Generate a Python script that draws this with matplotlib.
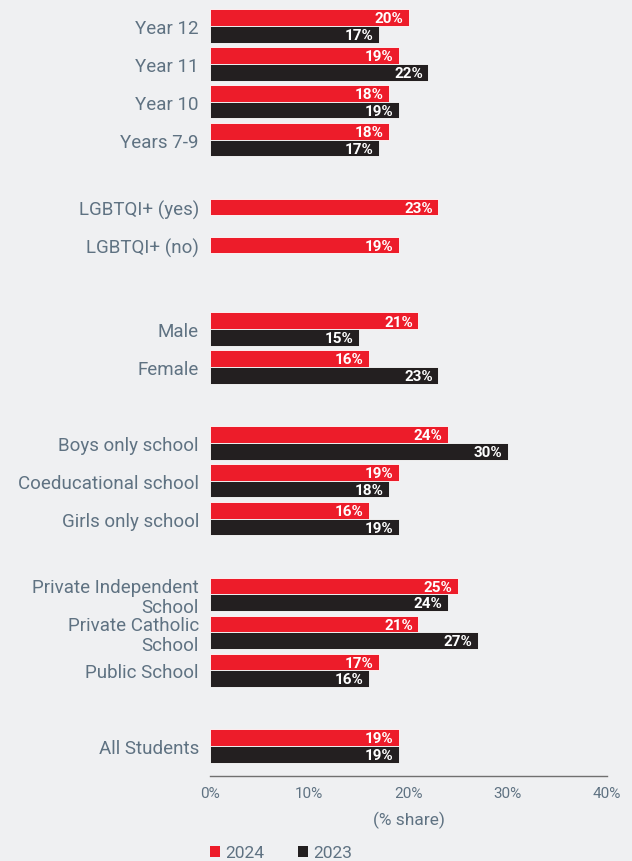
import numpy as np
import matplotlib
matplotlib.use("Agg")
import matplotlib.pyplot as plt
from matplotlib.patches import Patch

# ── data ──────────────────────────────────────────────────────────────────────
# blank strings are spacer rows between the groups
categories = ["Year 12", "Year 11", "Year 10", "Years 7-9", "",
              "LGBTQI+ (yes)", "LGBTQI+ (no)", "",
              "Male", "Female", "",
              "Boys only school", "Coeducational school", "Girls only school", "",
              "Private Independent\nSchool", "Private Catholic\nSchool", "Public School", "",
              "All Students"]
share_2024 = [20, 19, 18, 18, None,
              23, 19, None,
              21, 16, None,
              24, 19, 16, None,
              25, 21, 17, None,
              19]
share_2023 = [17, 22, 19, 17, None,
              None, None, None,
              15, 23, None,
              30, 18, 19, None,
              24, 27, 16, None,
              19]
x_ticks = [0, 10, 20, 30, 40]
series_names = ["2024", "2023"]

# ── style ─────────────────────────────────────────────────────────────────────
BG    = "#EFF0F2"
RED   = "#ED1C2A"
BLACK = "#231F20"
TXT   = "#5F7282"
plt.rcParams["font.family"] = ["Roboto", "DejaVu Sans"]

fig = plt.figure(figsize=(6.32, 8.62), dpi=100, facecolor=BG)
ax = fig.add_axes([210/632, 85/862, 397/632, 769/862], facecolor=BG)

bh = 0.44
ypos = []
for i, (a, b) in enumerate(zip(share_2024, share_2023)):
    # rows with only one series get their label on that bar
    ypos.append(i - bh/2 if (a is not None and b is None) else i)
    for val, col, off in ((a, RED, -bh/2), (b, BLACK, bh/2)):
        if val is None:
            continue
        ax.barh(i + off, val, height=bh, color=col, edgecolor="#FFFFFF",
                linewidth=0.6)
        ax.annotate(f"{val}%", (val, i + off), xytext=(-4, -0.5),
                    textcoords="offset points", ha="right", va="center",
                    color="white", fontsize=11, fontweight="bold")

ax.set_xlim(0, 40)
ax.set_ylim(19.79, -0.5)
ax.set_yticks(ypos)
ax.set_yticklabels(categories, fontsize=13.5, color=TXT, linespacing=1.1)
ax.set_xticks(x_ticks)
ax.set_xticklabels([f"{t}%" for t in x_ticks], fontsize=11, color=TXT)
ax.tick_params(length=0, axis="both")
ax.tick_params(axis="y", pad=8)
ax.tick_params(axis="x", pad=7)
for s in ("top", "right", "left"):
    ax.spines[s].set_visible(False)
ax.spines["bottom"].set_color("#707070")
ax.spines["bottom"].set_linewidth(1.0)
ax.set_xlabel("(% share)", fontsize=12.5, color=TXT, labelpad=8)

handles = [Patch(facecolor=RED, label=series_names[0]),
           Patch(facecolor=BLACK, label=series_names[1])]
leg = fig.legend(handles=handles, loc="lower left", ncol=2, frameon=False,
                 bbox_to_anchor=(201/632, -8/862), handlelength=0.62,
                 handleheight=0.62, handletextpad=0.3, columnspacing=1.9,
                 borderpad=0, fontsize=12.5)
for t in leg.get_texts():
    t.set_color(TXT)

fig.savefig("out.png", dpi=100, facecolor=BG)
